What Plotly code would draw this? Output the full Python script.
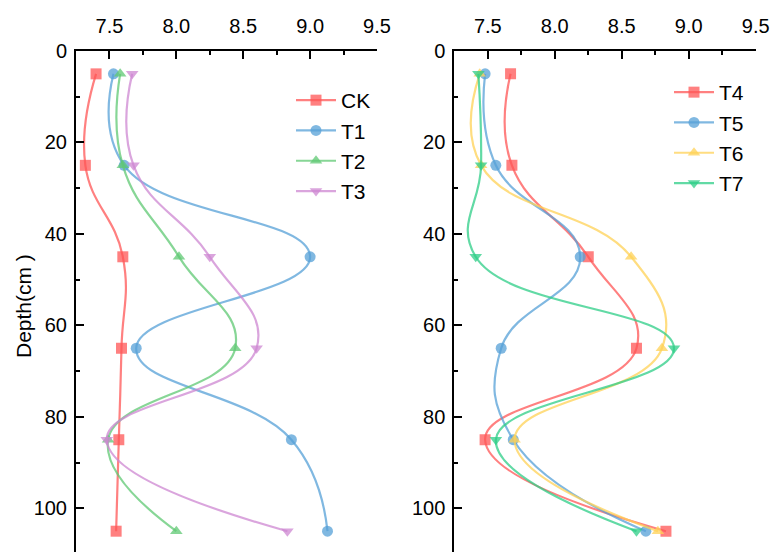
import plotly.graph_objects as go

depth = [5, 25, 45, 65, 85, 105]

# Left panel
CK = [7.40, 7.32, 7.60, 7.59, 7.57, 7.55]
T1 = [7.53, 7.61, 9.00, 7.70, 8.86, 9.13]
T2 = [7.58, 7.60, 8.02, 8.44, 7.49, 8.00]
T3 = [7.67, 7.68, 8.25, 8.60, 7.48, 8.83]

# Right panel
T4 = [7.67, 7.68, 8.25, 8.61, 7.48, 8.83]
T5 = [7.48, 7.56, 8.19, 7.60, 7.69, 8.68]
T6 = [7.44, 7.45, 8.57, 8.80, 7.70, 8.77]
T7 = [7.43, 7.45, 7.41, 8.89, 7.56, 8.61]

x_ticks = [7.5, 8.0, 8.5, 9.0, 9.5]
x_ticklabels = ["7.5", "8.0", "8.5", "9.0", "9.5"]
y_ticks = [0, 20, 40, 60, 80, 100]

RED = "rgba(255,85,85,0.75)"
BLUE = "rgba(85,160,215,0.75)"
GREEN = "rgba(95,200,115,0.75)"
PURPLE = "rgba(205,135,210,0.75)"
YELLOW = "rgba(255,210,85,0.75)"
TEAL = "rgba(45,205,135,0.75)"

left = [("CK", CK, RED, "square"), ("T1", T1, BLUE, "circle"),
        ("T2", T2, GREEN, "triangle-up"), ("T3", T3, PURPLE, "triangle-down")]
right = [("T4", T4, RED, "square"), ("T5", T5, BLUE, "circle"),
         ("T6", T6, YELLOW, "triangle-up"), ("T7", T7, TEAL, "triangle-down")]

fig = go.Figure()
for name, vals, col, sym in left:
    fig.add_trace(go.Scatter(
        x=vals, y=depth, name=name, mode="lines+markers",
        line=dict(color=col, width=2.2, shape="spline", smoothing=1.3),
        marker=dict(color=col, symbol=sym, size=11),
        xaxis="x", yaxis="y", legend="legend"))
for name, vals, col, sym in right:
    fig.add_trace(go.Scatter(
        x=vals, y=depth, name=name, mode="lines+markers",
        line=dict(color=col, width=2.2, shape="spline", smoothing=1.3),
        marker=dict(color=col, symbol=sym, size=11),
        xaxis="x2", yaxis="y2", legend="legend2"))

FONT = "Liberation Sans, Arial, sans-serif"
W, H = 773, 552
T = 51
PH = H - T

def py(pix):
    return 1 - (pix - T) / PH

xcommon = dict(range=[7.25, 9.5], side="top", tickvals=x_ticks, ticktext=x_ticklabels,
               ticks="inside", ticklen=8, tickwidth=2, tickcolor="black",
               showline=True, linecolor="black", linewidth=2, mirror=False,
               showgrid=False, zeroline=False, automargin=False,
               tickfont=dict(size=20, color="black", family=FONT),
               ticklabelstandoff=8,
               minor=dict(ticks="inside", ticklen=4, tickwidth=2, tickcolor="black", dtick=0.25, showgrid=False))
ycommon = dict(range=[109.55, 0], tickvals=y_ticks,
               ticks="inside", ticklen=8, tickwidth=2, tickcolor="black",
               showline=True, linecolor="black", linewidth=2,
               showgrid=False, zeroline=False, automargin=False,
               tickfont=dict(size=20, color="black", family=FONT),
               ticklabelstandoff=3,
               minor=dict(ticks="inside", ticklen=4, tickwidth=2, tickcolor="black", dtick=10, showgrid=False))

fig.update_layout(
    width=W, height=H,
    margin=dict(l=0, r=0, t=T, b=0),
    paper_bgcolor="white", plot_bgcolor="white",
    font=dict(family=FONT, color="black"),
    xaxis=dict(domain=[76 / W, 377 / W], anchor="y", **xcommon),
    yaxis=dict(domain=[0, 1], anchor="x", **ycommon),
    xaxis2=dict(domain=[454.3 / W, 755.7 / W], anchor="y2", **xcommon),
    yaxis2=dict(domain=[0, 1], anchor="x2", **ycommon),
    legend=dict(x=291 / W, y=py(80), xanchor="left", yanchor="top",
                bgcolor="rgba(0,0,0,0)", font=dict(size=21, family=FONT, color="black"),
                tracegroupgap=0, itemwidth=40),
    legend2=dict(x=669 / W, y=py(72), xanchor="left", yanchor="top",
                 bgcolor="rgba(0,0,0,0)", font=dict(size=21, family=FONT, color="black"),
                 tracegroupgap=0, itemwidth=40),
    showlegend=True,
    annotations=[dict(text="Depth(cm )", x=23 / W, y=py(306), xref="paper", yref="paper",
                      textangle=-90, showarrow=False, xanchor="center", yanchor="middle",
                      font=dict(size=21, family=FONT, color="black"))],
)

fig.write_html("out.html", config={"displayModeBar": False},
               post_script="document.body.style.margin='0';document.body.style.overflow='hidden';")
